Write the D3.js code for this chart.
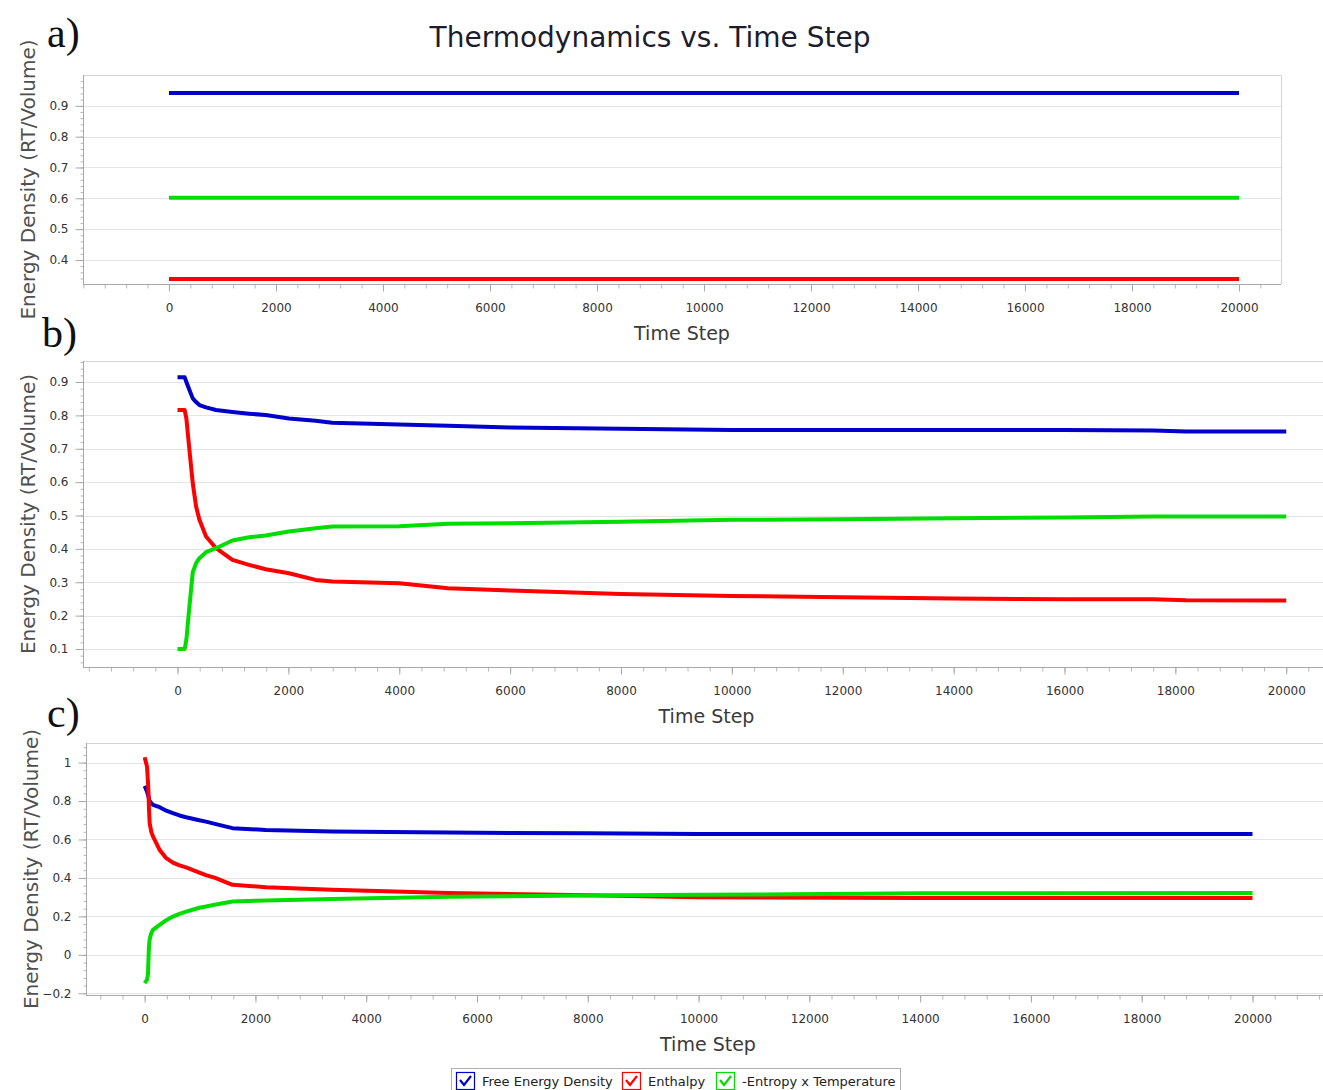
<!DOCTYPE html>
<html>
<head>
<meta charset="utf-8">
<script src="https://cdn.jsdelivr.net/npm/d3@7"></script>
<style>
  body { margin: 0; background: #fff; }
  svg { display: block; }
</style>
</head>
<body>
<svg id="chart" width="1323" height="1090"></svg>
<script>
// series shared by the three panels
const seriesNames = ['Free Energy Density', 'Enthalpy', '-Entropy x Temperature'];
const seriesColors = ['#0000cc', '#ff0000', '#00dd00'];

// panel a: flat run
const stepsA = [0, 20000];
const freeA = [0.942, 0.942];
const enthalpyA = [0.338, 0.338];
const entropyA = [0.602, 0.602];

// panel b
const stepsB = [0, 130, 160, 215, 275, 335, 395, 515, 695, 990, 1290, 1590, 2010, 2490, 2790,
    4000, 4880, 6000, 8000, 10000, 12000, 14000, 16000, 17600, 18200, 20000];
const freeB = [0.914, 0.914, 0.90, 0.876, 0.851, 0.840, 0.831, 0.824, 0.816, 0.810, 0.805, 0.801,
    0.791, 0.784, 0.778, 0.773, 0.769, 0.764, 0.760, 0.756, 0.756, 0.756, 0.756, 0.755, 0.752, 0.752];
const enthalpyB = [0.816, 0.816, 0.790, 0.696, 0.597, 0.527, 0.487, 0.437, 0.402, 0.367, 0.352, 0.339,
    0.327, 0.307, 0.302, 0.297, 0.282, 0.275, 0.265, 0.259, 0.255, 0.251, 0.249, 0.249, 0.246, 0.245];
const entropyB = [0.100, 0.100, 0.128, 0.228, 0.330, 0.357, 0.372, 0.390, 0.402, 0.425, 0.435, 0.440,
    0.452, 0.462, 0.467, 0.468, 0.475, 0.477, 0.481, 0.487, 0.489, 0.492, 0.494, 0.497, 0.497, 0.497];

// panel c
const stepsC = [0, 42, 60, 72, 78, 90, 120, 150, 270, 390, 509, 629, 748, 987, 1107, 1286, 1585,
    2184, 3381, 5476, 8000, 10000, 14000, 20000];
const freeC = [0.879, 0.850, 0.832, 0.820, 0.810, 0.800, 0.789, 0.780, 0.768, 0.750, 0.737, 0.725,
    0.716, 0.700, 0.693, 0.680, 0.659, 0.650, 0.641, 0.636, 0.632, 0.628, 0.628, 0.628];
const enthalpyC = [1.028, 0.980, 0.900, 0.824, 0.760, 0.685, 0.640, 0.616, 0.546, 0.503, 0.480, 0.465,
    0.455, 0.428, 0.415, 0.399, 0.364, 0.352, 0.338, 0.321, 0.310, 0.300, 0.295, 0.295];
const entropyC = [-0.147, -0.130, -0.100, 0.000, 0.043, 0.080, 0.113, 0.130, 0.156, 0.180, 0.199, 0.213,
    0.225, 0.245, 0.251, 0.262, 0.277, 0.283, 0.290, 0.302, 0.308, 0.312, 0.320, 0.321];

const xTicks = d3.range(0, 20001, 2000);
const yTicksA = [0.4, 0.5, 0.6, 0.7, 0.8, 0.9];
const yTicksB = [0.1, 0.2, 0.3, 0.4, 0.5, 0.6, 0.7, 0.8, 0.9];
const yTicksC = [-0.2, 0, 0.2, 0.4, 0.6, 0.8, 1];

const panels = [
    {
        letter: 'a)', letterPos: [47, 47],
        box: {left: 83, top: 75, right: 1281, bottom: 284}, closed: true,
        xDomain: [-1607, 20785], yDomain: [0.322, 1.0],
        yTicks: yTicksA, yMinor: 0.02, yFormat: d3.format('.1f'),
        steps: stepsA, values: [freeA, enthalpyA, entropyA]
    },
    {
        letter: 'b)', letterPos: [42, 347],
        box: {left: 83, top: 361, right: 1340, bottom: 667}, closed: false,
        xDomain: [-1705, 20970], yDomain: [0.046, 0.963],
        yTicks: yTicksB, yMinor: 0.02, yFormat: d3.format('.1f'),
        steps: stepsB, values: [freeB, enthalpyB, entropyB]
    },
    {
        letter: 'c)', letterPos: [47, 727],
        box: {left: 86, top: 743, right: 1340, bottom: 995}, closed: false,
        xDomain: [-1059, 21580], yDomain: [-0.209, 1.102],
        yTicks: yTicksC, yMinor: 0.04, yFormat: d => d3.format('~g')(d),
        steps: stepsC, values: [freeC, enthalpyC, entropyC]
    }
];

const svg = d3.select('#chart');
const font = 'DejaVu Sans, Verdana, sans-serif';

svg.append('text')
    .attr('x', 650)
    .attr('y', 47)
    .attr('text-anchor', 'middle')
    .style('font-family', font)
    .style('font-size', '28px')
    .style('fill', '#1c1c2c')
    .text('Thermodynamics vs. Time Step');

panels.forEach(function (p) { draw_panel(svg, p); });
draw_legend(svg);

function draw_panel (svg, p) {

    const b = p.box;
    const g = svg.append('g').attr('class', 'panel');

    const x = d3.scaleLinear().domain(p.xDomain).range([b.left, b.right]);
    const y = d3.scaleLinear().domain(p.yDomain).range([b.bottom, b.top]);

    // grid
    g.append('g')
        .selectAll('line')
        .data(p.yTicks)
        .join('line')
        .attr('x1', b.left)
        .attr('x2', b.right)
        .attr('y1', d => Math.round(y(d)) + 0.5)
        .attr('y2', d => Math.round(y(d)) + 0.5)
        .style('stroke', '#e4e4e4');

    // frame
    g.append('path')
        .attr('d', p.closed
            ? `M${b.left},${b.top + 0.5}H${b.right + 0.5}V${b.bottom}`
            : `M${b.left},${b.top + 0.5}H${b.right}`)
        .style('fill', 'none')
        .style('stroke', '#d4d4d4');

    // y axis
    const yMinor = d3.range(Math.ceil(p.yDomain[0] / p.yMinor) * p.yMinor, p.yDomain[1], p.yMinor);
    g.append('g')
        .attr('transform', `translate(${b.left + 0.5},0)`)
        .call(d3.axisLeft(y).tickValues(yMinor).tickSize(3).tickFormat(''))
        .call(s => s.select('.domain').remove())
        .call(s => s.selectAll('line').style('stroke', '#b8b8b8'));
    g.append('g')
        .attr('transform', `translate(${b.left + 0.5},0)`)
        .call(d3.axisLeft(y).tickValues(p.yTicks).tickSize(8).tickPadding(7).tickFormat(p.yFormat))
        .call(s => s.select('.domain').attr('d', `M0,${b.top}V${b.bottom}`).style('stroke', '#a8a8a8'))
        .call(s => s.selectAll('line').style('stroke', '#a8a8a8'))
        .call(s => s.selectAll('text')
            .style('font-family', font)
            .style('font-size', '12px')
            .style('fill', '#333'));

    // x axis
    const xMinor = d3.range(Math.ceil(p.xDomain[0] / 400) * 400, p.xDomain[1], 400);
    g.append('g')
        .attr('transform', `translate(0,${b.bottom + 0.5})`)
        .call(d3.axisBottom(x).tickValues(xMinor).tickSize(4).tickFormat(''))
        .call(s => s.select('.domain').remove())
        .call(s => s.selectAll('line').style('stroke', '#b8b8b8'));
    g.append('g')
        .attr('transform', `translate(0,${b.bottom + 0.5})`)
        .call(d3.axisBottom(x).tickValues(xTicks).tickSize(7).tickPadding(12).tickFormat(d3.format('d')))
        .call(s => s.select('.domain').attr('d', `M${b.left},0H${b.right}`).style('stroke', '#a8a8a8'))
        .call(s => s.selectAll('line').style('stroke', '#a8a8a8'))
        .call(s => s.selectAll('text')
            .style('font-family', font)
            .style('font-size', '12px')
            .style('fill', '#333'));

    // axis titles
    g.append('text')
        .attr('transform', `translate(${b.left - 55},${(b.top + b.bottom) / 2}) rotate(-90)`)
        .attr('text-anchor', 'middle')
        .attr('dy', '0.35em')
        .style('font-family', font)
        .style('font-size', '20px')
        .style('fill', '#505050')
        .text('Energy Density (RT/Volume)');

    g.append('text')
        .attr('x', (b.left + Math.min(b.right, 1330)) / 2)
        .attr('y', b.bottom + 56)
        .attr('text-anchor', 'middle')
        .style('font-family', font)
        .style('font-size', '19px')
        .style('fill', '#3a3a3a')
        .text('Time Step');

    // series
    const line = d3.line()
        .x(d => x(d[0]))
        .y(d => y(d[1]));

    g.append('g')
        .selectAll('path')
        .data(p.values.map((vals, i) => ({
            color: seriesColors[i],
            points: p.steps.map((s, j) => [s, vals[j]])
        })))
        .join('path')
        .attr('d', d => line(d.points))
        .style('fill', 'none')
        .style('stroke', d => d.color)
        .style('stroke-width', 4)
        .style('stroke-linejoin', 'round');

    g.append('text')
        .attr('x', p.letterPos[0])
        .attr('y', p.letterPos[1])
        .style('font-family', 'Liberation Serif, Times New Roman, serif')
        .style('font-size', '42px')
        .style('fill', '#111')
        .text(p.letter);

}

function draw_legend (svg) {

    const legend = svg.append('g').attr('transform', 'translate(451,1068)');

    legend.append('rect')
        .attr('x', 0.5)
        .attr('y', 0.5)
        .attr('width', 449)
        .attr('height', 26)
        .style('fill', '#fff')
        .style('stroke', '#b0b0b0');

    const offsets = [5, 171, 265];

    const item = legend.selectAll('g.item')
        .data(seriesNames.map((name, i) => ({name: name, color: seriesColors[i], x: offsets[i]})))
        .join('g')
        .attr('class', 'item')
        .attr('transform', d => `translate(${d.x},4)`);

    item.append('rect')
        .attr('x', 0.5)
        .attr('y', 0.5)
        .attr('width', 18)
        .attr('height', 17)
        .style('fill', '#fff')
        .style('stroke', d => d.color)
        .style('stroke-width', 1.2);

    item.append('path')
        .attr('d', 'M4,8 L8,13 L15,4')
        .style('fill', 'none')
        .style('stroke', d => d.color)
        .style('stroke-width', 2.2);

    item.append('text')
        .attr('x', 26)
        .attr('y', 14)
        .style('font-family', font)
        .style('font-size', '13px')
        .style('fill', '#222')
        .text(d => d.name);

}
</script>
</body>
</html>
